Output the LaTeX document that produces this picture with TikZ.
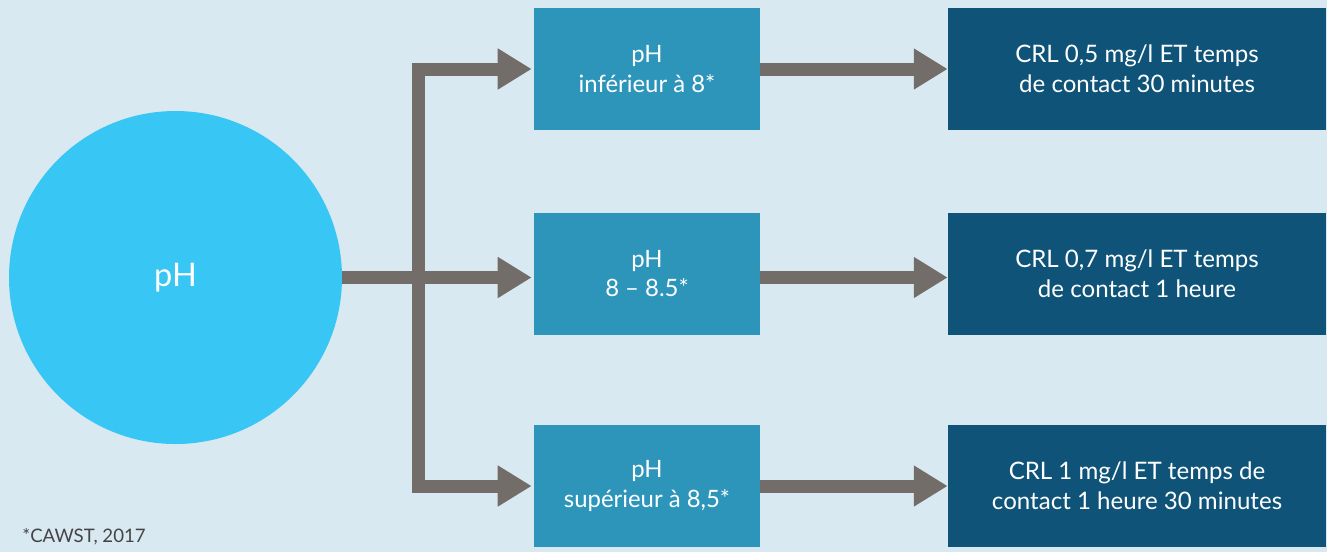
\documentclass[tikz,border=0pt]{standalone}
\usepackage{fontspec}
\setmainfont{Lato}
\usepackage{tikz}
\usetikzlibrary{arrows.meta}
\usetikzlibrary{positioning}
\usepackage{xcolor}

\definecolor{fond}{HTML}{D9E9F2}
\definecolor{bulle}{HTML}{38C6F4}
\definecolor{moyen}{HTML}{2E95BA}
\definecolor{fonce}{HTML}{0F5478}
\definecolor{fleche}{HTML}{736D6A}
\definecolor{note}{HTML}{444444}

\tikzset{
  classe/.style={fill=moyen, text=white, minimum width=226*0.02cm, minimum height=122*0.02cm,
    inner sep=0pt, align=center, font=\fontsize{13.6}{17}\selectfont},
  resultat/.style={fill=fonce, text=white, minimum width=378*0.02cm, minimum height=122*0.02cm,
    inner sep=0pt, align=center, font=\fontsize{13.7}{17}\selectfont},
  flux/.style={draw=fleche, line width=7.4pt, line join=miter,
    -{Triangle[length=19.3pt, width=22.1pt]}}
}

\begin{document}
\begin{tikzpicture}[x=0.02cm,y=-0.02cm]
\fill[fond] (0,0) rectangle (1327,552);
\useasboundingbox (0,0) rectangle (1327,552);

\node[circle, fill=bulle, minimum size=333*0.02cm, inner sep=0pt, text=white,
  font=\fontsize{18.5}{22}\selectfont] (ph) at (175.5,277.5) {pH};

\node[classe] (bas) at (647,69) {pH\\inférieur à 8*};
\node[classe] (moy) at (647,273.5) {pH\\8 – 8.5*};
\node[classe] (haut) at (647,486) {pH\\supérieur à 8,5*};

\node[resultat] (rbas) at (1137,69) {CRL 0,5 mg/l ET temps\\de contact 30 minutes};
\node[resultat] (rmoy) at (1137,273.5) {CRL 0,7 mg/l ET temps\\de contact 1 heure};
\node[resultat] (rhaut) at (1137,486) {CRL 1 mg/l ET temps de\\contact 1 heure 30 minutes};

\coordinate (noeud) at (418.5,277.5);

% branches
\draw[flux, shorten >=2*0.02cm] (ph.east) -- (ph.east -| moy.west);
\draw[flux, shorten >=2*0.02cm] (noeud) |- (bas.west);
\draw[flux, shorten >=2*0.02cm] (noeud) |- (haut.west);

\draw[flux] (bas) -- (rbas);
\draw[flux] (moy.east |- ph.east) -- (ph.east -| rmoy.west);
\draw[flux] (haut) -- (rhaut);

\node[anchor=west, inner sep=0pt, text=note, font=\fontsize{10.6}{12}\selectfont] (source) at (22,537) {*CAWST, 2017};
\end{tikzpicture}
\end{document}
